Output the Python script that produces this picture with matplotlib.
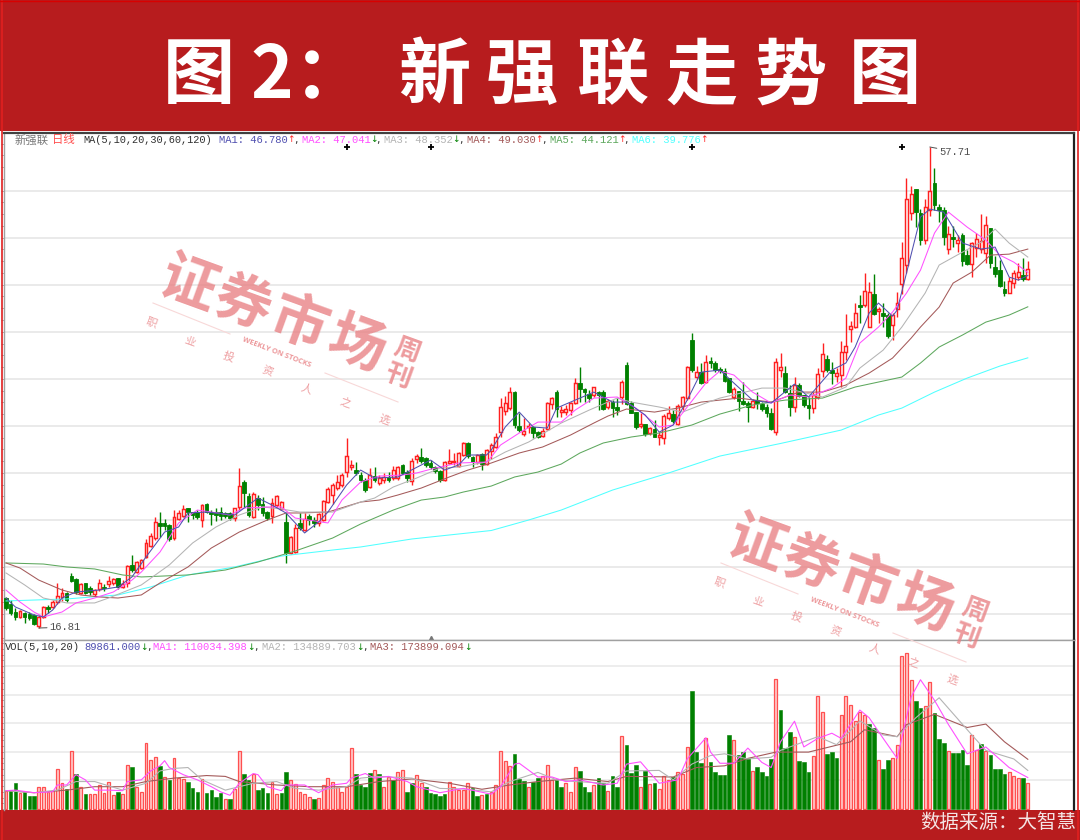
#script plot.py - 新强联日线走势图

import numpy as np
from matplotlib import pyplot as plt
from matplotlib.lines import Line2D
from matplotlib.patches import Rectangle
import matplotlib.patheffects as pe

plt.rcParams['font.family'] = ['Noto Sans CJK SC', 'DejaVu Sans']

#============================================================================
# Dados
#============================================================================
candle_dir = ("GGGRGGGRRG" "RRRGGGRGGR" "RGRRGRRGRR" "RRRGGGRRRG" "GGRGGGGGGR"
              "RGGRGGGRRR" "GRRGRGGRRR" "RRRRRGGGRG" "RRGRRGGRRG" "GGGGRRRRRG"
              "GRGRRRRRRG" "GRRGGRRRGR" "RRRGGGRGGR" "GGRGGGRGRG" "RRRGRRRGRG"
              "RGGGGGRGGG" "RGGGGRRGGR" "GGGRRRGGRR" "RRRGRRGRGG" "RRRRRGGRRG"
              "GGRGRGGRRR" "RGGGGRRRGR")

body_hi = [19.36,18.85,18.17,18.26,18.09,18.00,17.92,17.75,18.60,18.60,
           19.02,19.53,19.79,19.79,21.23,20.98,20.55,20.64,20.21,20.04,
           20.64,20.30,20.81,20.98,21.06,20.55,22.08,22.17,22.42,22.59,
           24.04,24.63,25.82,25.74,25.74,25.57,26.25,26.59,26.93,27.01,
           26.67,26.67,27.27,27.35,26.67,26.67,26.67,26.59,26.59,27.01,
           28.88,29.22,28.03,28.20,27.86,27.35,26.67,27.44,28.03,27.52,
           25.82,24.55,25.31,25.74,26.08,26.33,25.99,26.50,27.61,28.63,
           28.97,29.22,29.82,31.43,30.67,30.24,29.82,29.39,29.82,29.73,
           29.56,29.65,29.65,30.24,30.50,30.67,30.07,31.01,31.43,31.35,
           31.26,30.84,30.50,30.16,30.92,31.01,31.01,31.69,32.54,32.54,
           31.35,31.52,31.60,31.94,32.37,33.05,35.60,35.94,36.87,36.87,
           33.98,33.56,33.98,33.90,33.47,33.56,35.94,36.36,36.87,35.34,
           35.43,35.94,37.64,37.64,37.13,36.70,37.30,36.87,36.87,36.11,
           36.02,35.60,37.72,39.17,35.94,35.17,34.15,34.15,33.81,33.73,
           33.22,34.83,35.09,35.00,35.68,36.45,39.00,41.29,38.57,38.57,
           39.42,39.51,39.34,38.83,38.66,38.06,37.13,36.96,36.11,35.94,
           36.11,36.19,35.85,35.60,35.09,39.42,39.00,38.49,36.79,37.47,
           37.47,36.62,35.77,36.62,38.40,40.10,39.68,38.74,38.49,40.27,
           40.78,42.48,43.59,44.27,45.46,45.37,45.20,43.93,43.59,43.42,
           43.42,44.44,48.26,53.28,53.70,54.13,52.09,52.60,53.96,54.64,
           52.60,52.34,50.30,50.05,49.79,50.22,48.52,49.54,49.88,49.71,
           51.07,50.81,47.50,47.24,45.63,46.31,46.99,47.07,46.82,47.33]
body_lo = [18.51,18.09,17.75,17.75,17.75,17.66,17.15,16.98,17.75,18.43,
           18.60,19.02,19.45,19.19,20.81,19.87,19.79,19.79,19.87,19.70,
           20.13,20.21,20.55,20.64,20.30,20.30,20.64,21.74,21.57,21.91,
           22.85,23.78,24.46,25.48,25.48,24.38,24.46,26.08,26.33,26.67,
           26.42,26.25,25.99,26.67,26.50,26.42,26.33,26.33,26.16,26.16,
           27.10,28.29,26.42,26.25,27.27,26.59,26.16,26.33,27.27,26.93,
           23.19,23.19,23.27,25.31,25.14,25.99,25.74,25.74,25.99,27.52,
           28.12,28.71,28.97,30.07,30.50,29.99,29.39,28.54,28.80,29.39,
           29.14,29.39,29.39,29.56,29.56,29.99,29.56,29.31,31.18,31.01,
           30.67,30.50,30.16,29.39,29.39,30.84,30.92,30.58,31.52,31.43,
           30.92,30.92,30.75,30.75,31.86,32.20,33.47,35.26,35.51,34.07,
           33.64,33.30,33.90,33.39,33.05,33.13,33.73,35.85,35.43,35.17,
           35.17,35.34,35.94,37.13,36.87,36.36,36.62,36.62,35.43,35.60,
           35.51,35.34,36.45,35.85,35.09,33.90,33.98,33.30,33.39,33.05,
           33.05,32.96,34.66,34.41,34.15,35.68,36.36,38.74,38.15,37.64,
           37.72,39.34,38.74,38.66,37.81,36.87,36.45,36.11,35.85,35.60,
           35.60,35.94,35.43,35.09,33.73,33.47,38.74,36.87,35.60,35.60,
           36.53,35.77,35.51,35.51,36.45,38.66,38.74,38.49,38.23,38.32,
           40.27,42.23,42.40,44.10,44.27,42.40,43.50,43.76,43.33,41.63,
           42.57,43.93,46.05,47.67,52.09,52.17,49.79,49.79,52.34,52.77,
           52.34,50.05,49.03,49.88,49.54,48.01,47.75,47.75,49.11,49.03,
           48.69,47.84,46.90,45.88,45.29,45.29,46.14,46.65,46.48,46.48]
wick_hi = [19.45,19.19,18.51,18.34,18.17,18.17,18.00,17.92,18.68,18.77,
           19.19,20.64,20.21,19.87,21.49,21.06,20.64,20.64,20.38,20.13,
           20.98,20.55,21.23,21.06,21.06,20.89,22.17,23.02,22.51,22.68,
           24.38,24.89,26.25,26.67,26.08,25.65,26.84,26.84,27.27,27.01,
           26.67,26.84,27.35,27.44,26.84,27.01,27.10,26.67,26.67,27.01,
           30.41,29.39,28.29,28.37,28.12,27.95,26.76,27.86,28.12,27.61,
           26.59,24.63,25.65,26.59,26.59,26.50,26.25,26.59,27.69,28.80,
           29.14,29.82,29.99,32.96,31.09,30.92,30.07,29.56,30.41,30.50,
           29.82,29.99,30.07,30.58,30.58,30.75,30.24,31.26,31.60,32.11,
           31.35,31.09,30.58,30.24,31.01,32.03,31.69,31.77,32.62,32.62,
           31.43,31.60,31.69,32.03,32.54,33.39,36.36,36.53,37.30,36.96,
           35.09,34.66,34.24,33.98,33.56,33.81,36.02,36.45,37.04,35.68,
           35.77,36.02,38.06,38.99,37.21,37.04,37.30,36.96,37.04,36.28,
           36.19,36.36,37.89,39.42,36.11,35.17,35.09,34.15,33.90,34.49,
           33.47,35.00,35.68,35.34,35.85,36.53,39.08,41.89,39.08,39.34,
           40.02,39.85,39.51,39.00,38.91,38.06,37.30,36.96,37.72,36.11,
           36.28,36.87,36.02,35.85,35.51,39.76,40.19,39.08,37.47,38.15,
           37.64,36.62,36.45,36.87,38.91,41.04,40.02,39.42,38.91,41.21,
           43.50,42.91,44.44,45.12,46.99,46.22,46.90,44.10,44.44,43.59,
           43.59,45.37,49.62,55.06,54.38,54.13,52.43,53.28,57.71,55.91,
           52.85,52.60,50.98,50.98,50.22,50.39,48.94,49.62,50.39,52.00,
           51.83,50.81,48.43,48.09,46.31,46.65,47.24,47.84,48.26,48.01]
wick_lo = [18.34,17.92,17.49,17.66,17.24,17.49,17.07,16.81,17.66,18.09,
           18.51,18.85,19.11,19.02,20.72,19.70,19.70,19.70,19.62,19.53,
           19.96,19.96,20.30,20.47,20.13,20.21,20.30,21.57,21.49,21.83,
           22.76,23.70,24.29,24.55,25.14,24.21,24.29,25.99,26.25,25.82,
           26.08,26.08,25.40,26.59,25.57,25.91,25.99,26.16,25.99,25.91,
           26.84,27.10,26.25,26.16,26.84,26.33,25.99,25.74,27.10,26.84,
           22.34,23.10,23.19,25.14,25.06,25.57,25.40,25.48,25.91,27.44,
           27.35,28.54,28.80,29.65,30.24,29.82,29.22,28.37,28.71,29.22,
           28.97,29.14,29.22,29.39,29.39,29.90,29.22,28.97,30.84,30.84,
           30.50,30.33,29.99,29.22,29.31,30.75,30.67,30.50,31.43,31.26,
           30.50,30.75,30.24,30.67,31.18,32.11,33.05,34.92,35.34,33.81,
           33.47,33.13,33.39,32.96,32.96,33.05,33.64,35.43,34.75,34.75,
           34.92,34.92,35.85,36.02,36.02,36.02,36.45,35.34,35.34,35.43,
           34.75,34.92,35.85,35.77,35.09,33.73,33.81,33.13,33.22,33.05,
           32.37,32.45,34.49,34.24,34.07,35.34,36.19,38.57,37.98,37.55,
           37.64,38.91,38.57,38.49,37.72,36.79,36.28,35.26,35.77,34.32,
           35.51,35.43,35.26,34.75,33.64,33.22,38.15,36.79,34.83,35.17,
           36.45,35.60,34.58,35.09,36.28,38.15,38.57,37.55,37.72,37.30,
           39.59,41.12,42.31,42.74,44.10,42.40,43.42,42.74,42.40,41.46,
           41.29,43.25,45.20,46.99,51.49,50.90,49.37,49.45,51.83,52.34,
           51.32,49.37,48.60,49.20,48.77,47.58,47.67,46.65,48.35,48.69,
           47.84,47.41,46.65,45.80,45.03,45.29,45.71,46.39,46.31,46.39]

ma1_i = [0,2,6,8,10,12,15,20,24,27,30,34,37,39,43,49,54,57,60,64,67,69,73,76,79,84,89,91,94,97,
         99,103,104,107,110,113,116,118,122,126,130,133,137,140,143,146,149,153,156,160,164,169,
         172,177,180,182,185,187,190,191,193,196,198,201,205,209,212,215,217,219]
ma1_v = [19.36,18.60,17.92,17.75,18.34,19.36,19.87,20.04,20.30,21.15,22.85,24.97,25.40,26.59,26.67,
         26.42,27.86,27.27,26.59,24.89,25.82,26.67,28.97,30.24,29.56,29.65,30.67,31.09,30.24,30.67,
         31.52,31.52,31.94,33.90,35.17,33.90,33.81,35.51,36.19,36.87,36.02,36.02,34.92,33.47,34.07,
         36.19,38.57,38.74,37.64,36.19,35.94,37.55,36.45,38.74,39.34,40.70,43.59,44.44,43.33,43.84,
         46.99,51.75,52.43,52.17,49.54,49.03,49.20,46.65,46.39,46.78]
ma2_i = [0,3,6,8,12,15,19,23,27,29,33,37,41,44,48,51,56,59,62,69,72,76,80,85,88,92,97,103,104,106,
         110,114,119,122,126,131,135,140,143,146,150,153,156,160,164,168,172,177,180,183,187,190,
         193,196,199,202,206,210,213,216,219]
ma2_v = [20.04,19.02,18.17,17.75,18.17,18.94,19.36,19.87,20.89,21.57,23.27,25.74,26.84,26.67,26.42,
         27.01,27.10,27.10,26.16,25.74,27.69,29.22,29.73,29.82,29.99,30.41,30.84,30.92,31.35,32.37,
         33.39,34.32,34.32,35.34,36.36,36.45,35.51,33.90,34.07,35.60,37.64,38.66,38.32,36.87,35.94,
         36.62,36.45,37.21,38.06,41.04,42.40,43.67,45.29,47.24,50.39,52.17,50.90,49.79,48.52,47.92,47.04]
ma3_i = [0,4,8,13,19,22,29,35,40,45,50,55,59,63,70,76,79,83,88,93,97,103,107,112,119,125,131,134,
         140,145,150,153,162,167,175,180,183,188,192,197,200,205,209,212,215,219]
ma3_v = [21.49,20.47,19.36,18.94,18.94,19.36,20.47,22.17,24.04,25.40,26.42,27.10,26.93,26.67,26.67,
         27.52,27.86,28.80,29.56,30.41,30.50,30.92,31.77,32.62,34.24,35.34,36.36,36.02,35.60,35.17,
         35.94,36.36,37.21,37.21,36.45,37.30,38.91,40.44,42.40,45.29,47.67,48.77,49.62,50.73,49.54,48.35]
ma4_i = [0,3,7,12,16,20,24,29,33,39,44,50,56,60,63,69,76,80,84,89,95,99,104,110,115,121,126,129,
         133,139,144,149,153,157,164,170,175,180,185,190,194,196,200,203,207,211,215,219]
ma4_v = [22.34,21.91,20.89,20.04,19.62,19.45,19.36,19.62,20.64,22.00,23.61,24.97,25.99,26.59,26.59,
         26.67,27.52,27.69,28.12,28.71,29.65,30.24,30.84,31.69,32.20,33.22,34.24,34.83,35.43,35.17,
         35.51,36.02,36.19,36.36,36.02,36.87,36.87,37.47,38.49,39.76,41.46,42.40,44.10,46.14,47.07,
         48.52,48.60,49.03]
ma5_i = [0,8,13,19,25,29,39,47,54,62,70,76,83,89,94,98,104,109,114,119,123,128,134,140,147,153,
         160,167,175,182,192,196,200,205,210,215,219]
ma5_v = [22.34,22.25,22.00,21.83,21.32,21.15,21.32,21.74,22.42,23.36,24.46,25.65,26.84,27.69,27.95,
         28.37,28.88,29.65,30.07,30.75,31.69,32.54,33.05,33.39,34.07,35.00,35.77,36.19,36.36,37.30,
         38.15,39.34,40.70,41.72,42.82,43.42,44.12]
ma6_i = [0,13,24,31,39,49,59,70,76,87,104,112,119,130,142,153,166,179,187,192,199,206,213,219]
ma6_v = [19.11,19.28,19.62,20.30,21.32,22.00,22.93,23.44,23.70,24.38,25.10,25.99,26.84,28.54,29.99,
         31.43,32.50,33.64,34.92,35.51,36.87,38.06,39.08,39.78]

ma_names = ['MA1: 46.780', 'MA2: 47.041', 'MA3: 48.352', 'MA4: 49.030', 'MA5: 44.121', 'MA6: 39.776']
ma_arrows = ['↑', '↓', '↓', '↑', '↑', '↑']

# volume em milhares
volumes = [64,66,90,57,60,45,45,76,76,60, 64,141,90,69,204,124,76,52,52,54,
           83,57,95,48,60,52,155,148,76,60, 231,172,181,151,112,102,177,108,105,95,
           74,61,105,57,66,42,57,35,35,71, 204,124,102,123,66,74,57,94,52,57,
           131,102,86,61,54,42,35,40,83,108, 95,76,60,78,212,124,83,76,127,136,
           124,76,112,100,130,136,59,90,119,90, 76,57,54,45,52,95,77,66,68,92,
           75,47,48,52,58,83,204,168,151,194, 105,98,76,93,110,114,155,100,102,76,
           90,61,146,134,76,61,83,110,90,63, 114,78,255,223,127,155,78,134,88,90,
           69,114,102,112,129,124,217,413,201,160, 249,165,131,119,119,258,240,189,199,177,
           134,146,129,117,175,455,345,213,271,253, 168,163,129,184,394,340,194,199,180,329,
           396,365,307,340,329,298,282,170,139,170, 177,225,536,545,452,377,352,360,445,334,
           245,230,204,196,196,205,153,260,208,228, 202,189,141,141,124,130,117,110,107,89.86]
vol_dir = ("RGGRGGGRRR" "RRRGRGRGRR" "RRRRGRRGRR" "RRRGRGRRRG" "GGRGGGGRGR"
           "RGGRGGGRRG" "GRRRRRGRRR" "RRRRRGGGGR" "GRRGRRGGRR" "GGGGGRRRRR"
           "GGRGRRRRRG" "GGRGGRRRGG" "RRRGGGRGGR" "GGRGGGRGRG" "RRRGRRRGGG"
           "RGGGGGRGGG" "RGGGGRGGGR" "GGGRRRGGGR" "RRRRRGGRGG" "RRRRRGGRRG"
           "GGRGGGGRRG" "RGGGGRRRGR")

volma1_i = [0,2,6,10,11,13,15,17,19,22,25,26,29,31,33,34,35,38,41,44,46,48,50,53,54,56,59,60,64,67,
            70,73,74,77,79,82,86,88,93,98,104,106,109,110,114,117,120,123,128,131,133,136,138,140,
            144,146,150,151,153,156,159,162,164,166,169,171,174,177,179,183,185,188,191,194,196,199,
            202,206,210,215,219]
volma1_v = [64,66,57,60,84,84,120,102,66,66,64,96,102,133,151,169,145,120,102,78,60,48,90,124,120,78,
            64,84,84,57,84,90,108,124,108,114,96,78,57,72,52,78,157,160,112,112,96,102,84,90,157,165,
            127,90,102,175,249,199,160,160,213,163,145,235,307,217,247,265,247,346,319,247,177,392,
            452,380,295,193,217,145,110]
volma2_i = [0,6,11,15,19,25,30,33,36,39,42,47,50,53,58,62,67,73,76,80,87,93,98,104,108,114,118,122,
            129,133,140,143,147,151,154,159,164,166,174,178,183,188,191,195,200,207,210,216,219]
volma2_v = [64,57,66,96,96,66,90,133,142,145,102,66,78,90,96,72,66,78,108,114,108,72,70,60,96,128,102,
            96,90,133,135,102,157,187,193,175,181,205,253,225,308,259,253,319,389,259,205,175,134.9]
volma3_i = [0,6,13,19,25,30,36,43,47,50,58,65,73,80,87,95,102,108,114,122,129,133,143,148,154,159,
            165,172,181,184,191,193,199,206,210,214,219]
volma3_v = [64,57,66,78,78,96,108,117,114,96,84,78,78,96,105,90,69,84,96,108,96,114,112,145,151,177,
            199,199,235,277,253,295,331,285,297,235,173.9]

vol_header = ['MA1: 110034.398', 'MA2: 134889.703', 'MA3: 173899.094']
price_grid = [18,22,26,30,34,38,42,46,50,54]
vol_grid = [100,200,300,400,500]

# marcas em cima do grafico
star_i = [73, 91, 147, 192]
star_v = [57.72, 57.72, 57.72, 57.72]
peak_i, peak_v = 198, 57.71
low_i, low_v = 7, 16.81

#============================================================================
# Figura
#============================================================================
W, H = 1080, 840
RED = '#b71c1e'
UP = '#ff2020'
DOWN = '#008000'
MONO = ['Liberation Mono', 'DejaVu Sans Mono', 'Noto Sans CJK SC']
HEAD = 7.6
ma_colors = ['#5050b0', '#ff50ff', '#b4b4b4', '#a45a5a', '#5ea85e', '#50ffff']

fig = plt.figure(figsize=(W/100, H/100), dpi=100, facecolor='white')

def fx(x):
    return x/W

def fy(y):
    return 1 - y/H

# faixas vermelhas
fig.patches.append(Rectangle((0, fy(131)), 1, 131/H, transform=fig.transFigure, fc=RED, ec='none', zorder=-1))
fig.patches.append(Rectangle((0, 0), 1, 30/H, transform=fig.transFigure, fc=RED, ec='none', zorder=-1))
fig.add_artist(Line2D([fx(1.5)]*2, [0, 1], color='#e02020', lw=1.2))
fig.add_artist(Line2D([fx(1078)]*2, [0, 1], color='#e02020', lw=1.2))
fig.add_artist(Line2D([0, 1], [fy(0.5)]*2, color='#d80000', lw=1))

axp = fig.add_axes([fx(4), fy(640), 1070/W, 507/H])
axv = fig.add_axes([fx(4), fy(810), 1070/W, 170/H])

for ax in (axp, axv):
    ax.set_xlim(-0.43, 228.9)
    ax.set_xticks([])
    ax.tick_params(axis='y', which='both', left=True, length=2, width=0.5, color='#909090', labelleft=False)
    for s in ax.spines.values():
        s.set_linewidth(1.0)
        s.set_color('#a0a0a0')
    ax.spines['right'].set_color('#202020')
    ax.spines['right'].set_linewidth(1.6)

axp.spines['top'].set_color('#404040')
axp.spines['top'].set_linewidth(1.6)
axv.spines['bottom'].set_visible(False)

axp.set_ylim(15.79, 58.9)
axp.set_yticks(price_grid)
axp.set_yticks(np.arange(16, 59, 1), minor=True)
axp.grid(True, axis='y', color='#e4e4e4', lw=1.1)
axp.set_axisbelow(True)

axv.set_ylim(-3.5, 591)
axv.set_yticks(vol_grid)
axv.set_yticks(np.arange(0, 591, 20), minor=True)
axv.grid(True, axis='y', color='#e8e8e8', lw=1.1)
axv.set_axisbelow(True)

#----------------------------------------------------------------------------
# velas
#----------------------------------------------------------------------------
n = len(candle_dir)
t = np.arange(n)
is_up = np.array([c == 'R' for c in candle_dir])
b_hi = np.array(body_hi)
b_lo = np.array(body_lo)
w_hi = np.array(wick_hi)
w_lo = np.array(wick_lo)

axp.vlines(t[is_up], w_lo[is_up], w_hi[is_up], color=UP, lw=1.0, zorder=2)
axp.vlines(t[~is_up], w_lo[~is_up], w_hi[~is_up], color=DOWN, lw=1.0, zorder=2)
axp.bar(t[is_up], (b_hi-b_lo)[is_up], bottom=b_lo[is_up], width=0.62, fc='white', ec=UP, lw=1.05, zorder=3)
axp.bar(t[~is_up], (b_hi-b_lo)[~is_up], bottom=b_lo[~is_up], width=0.78, fc=DOWN, ec=DOWN, lw=0.6, zorder=3)

ma_i = [ma1_i, ma2_i, ma3_i, ma4_i, ma5_i, ma6_i]
ma_v = [ma1_v, ma2_v, ma3_v, ma4_v, ma5_v, ma6_v]
for k in range(5, -1, -1):
    axp.plot(ma_i[k], ma_v[k], color=ma_colors[k], lw=0.75, zorder=4)

axp.plot(star_i, star_v, ls='none', marker='+', ms=4.5, mew=1.3, color='black', zorder=5)
axp.plot([91], [16.0], ls='none', marker='^', ms=3, color='#777777', zorder=5, clip_on=False)

axp.annotate('57.71', xy=(peak_i, peak_v), xytext=(7, -7), textcoords='offset points',
             family=MONO, fontsize=HEAD, color='#505050', va='bottom',
             arrowprops=dict(arrowstyle='-', color='#505050', lw=0.7, shrinkA=0, shrinkB=0))
axp.annotate('16.81', xy=(low_i, low_v), xytext=(8, -3), textcoords='offset points',
             family=MONO, fontsize=HEAD, color='#505050', va='bottom',
             arrowprops=dict(arrowstyle='-', color='#505050', lw=0.7, shrinkA=0, shrinkB=0))

#----------------------------------------------------------------------------
# volume
#----------------------------------------------------------------------------
vols = np.array(volumes)
v_up = np.array([c == 'R' for c in vol_dir])
tv = np.arange(len(vols))
axv.bar(tv[v_up], vols[v_up], width=0.62, fc='#ffc8c8', ec='#ff5050', lw=0.9, zorder=2)
axv.bar(tv[~v_up], vols[~v_up], width=0.76, fc=DOWN, ec=DOWN, lw=0.4, zorder=2)
axv.plot(volma3_i, volma3_v, color=ma_colors[3], lw=0.8, zorder=3)
axv.plot(volma2_i, volma2_v, color=ma_colors[2], lw=0.8, zorder=3)
axv.plot(volma1_i, volma1_v, color=ma_colors[1], lw=0.8, zorder=3)

#----------------------------------------------------------------------------
# textos
#----------------------------------------------------------------------------
title_chars = ['图', '2', '：', '新', '强', '联', '走', '势', '图']
title_x = [199, 272, 330, 434, 522, 613, 702, 791, 885]
for ch, x in zip(title_chars, title_x):
    fig.text(fx(x), fy(77), ch, color='white', fontsize=52, fontweight=900, ha='center', va='center')

fig.text(fx(1076), fy(822), '数据来源：大智慧', color='#f4e4e4', fontsize=14, ha='right', va='center')

# cabecalho das medias
hy = fy(140)
fig.text(fx(15), hy, '新强联', color='#777777', fontsize=8.2, va='center')
fig.text(fx(52), hy, '日线', color='#ff5050', fontsize=8.2, va='center')
fig.text(fx(83), hy, 'MA(5,10,20,30,60,120)', color='#303030', family=MONO, fontsize=7.4, va='center')
ma_x = [219, 301.5, 384, 467, 549.5, 632]
for k in range(6):
    fig.text(fx(ma_x[k]), hy, ma_names[k], color=ma_colors[k], family=MONO, fontsize=HEAD, va='center')
    cor = UP if ma_arrows[k] == '↑' else DOWN
    fig.text(fx(ma_x[k]+72), hy, ma_arrows[k], color=cor, family=['DejaVu Sans'], fontsize=6.5, va='center', ha='center')
    if k < 5:
        fig.text(fx(ma_x[k]+75), hy, ',', color='#303030', family=['DejaVu Sans'], fontsize=HEAD, va='center')

# cabecalho do volume
vy = fy(647)
fig.text(fx(5), vy, 'VOL(5,10,20)', color='#303030', family=MONO, fontsize=HEAD, va='center')
fig.text(fx(84), vy, '89861.000', color=ma_colors[0], family=MONO, fontsize=HEAD, va='center')
fig.text(fx(143.5), vy, '↓', color=DOWN, family=['DejaVu Sans'], fontsize=6.5, va='center', ha='center')
fig.text(fx(147), vy, ',', color='#303030', family=['DejaVu Sans'], fontsize=HEAD, va='center')
vh_x = [153, 262, 370]
vh_c = [ma_colors[1], ma_colors[2], ma_colors[3]]
for k in range(3):
    fig.text(fx(vh_x[k]), vy, vol_header[k], color=vh_c[k], family=MONO, fontsize=HEAD, va='center')
    fig.text(fx(vh_x[k]+97.5), vy, '↓', color=DOWN, family=['DejaVu Sans'], fontsize=6.5, va='center', ha='center')
    if k < 2:
        fig.text(fx(vh_x[k]+101), vy, ',', color='#303030', family=['DejaVu Sans'], fontsize=HEAD, va='center')

#----------------------------------------------------------------------------
# marca d'agua
#----------------------------------------------------------------------------
PINK = '#e87f82'
ROT = -20

def watermark(dx, dy):
    for ch, x, y in zip('证券市场', [189, 243, 299, 357], [285, 304, 324, 345]):
        fig.text(fx(x+dx), fy(y+dy), ch, color=PINK, alpha=0.78, fontsize=41, fontweight='bold',
                 rotation=ROT, ha='center', va='center')
    for ch, x, y in zip('周刊', [407, 398], [350, 377]):
        fig.text(fx(x+dx), fy(y+dy), ch, color=PINK, alpha=0.78, fontsize=19, fontweight='bold',
                 rotation=ROT, ha='center', va='center')
    xs = [151, 190, 228, 267, 306, 345, 384]
    ys = [323, 342, 357, 372, 389, 403, 420]
    for ch, x, y in zip('职业投资人之选', xs, ys):
        fig.text(fx(x+dx), fy(y+dy), ch, color=PINK, alpha=0.75, fontsize=8, rotation=ROT, ha='center', va='center')
    fig.text(fx(277+dx), fy(353+dy), 'WEEKLY ON STOCKS', color=PINK, alpha=0.8, fontsize=5.4, fontweight='bold',
             family=['Open Sans', 'DejaVu Sans'], rotation=ROT-1, ha='center', va='center')
    for x0, y0, x1, y1 in [(153, 303, 230, 334), (325, 373, 398, 402)]:
        fig.add_artist(Line2D([fx(x0+dx), fx(x1+dx)], [fy(y0+dy), fy(y1+dy)], color='#f8d8d8', lw=0.8))

watermark(0, 0)
watermark(568, 260)

plt.savefig('out.png', dpi=100, facecolor='white')
